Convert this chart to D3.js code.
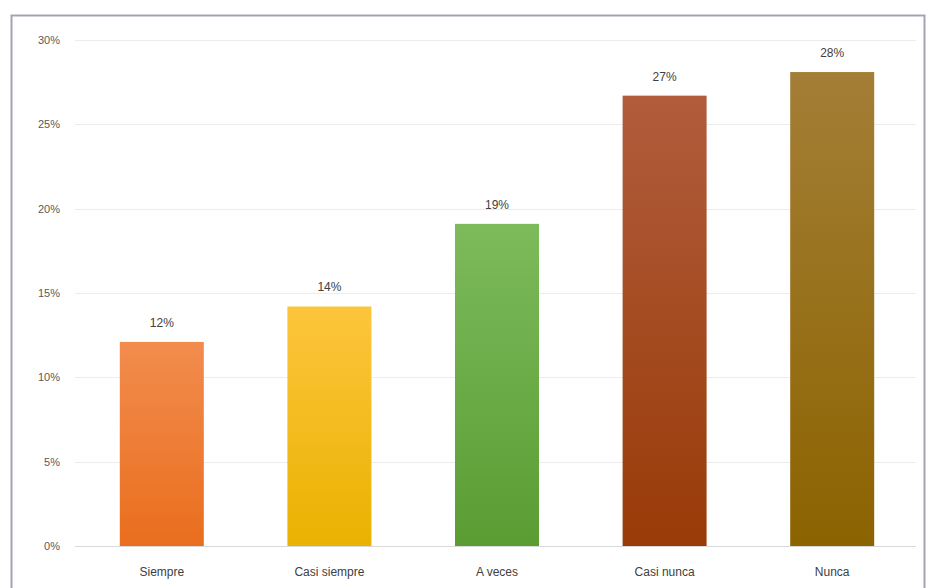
<!DOCTYPE html>
<html><head><meta charset="utf-8">
<script src="https://cdn.jsdelivr.net/npm/d3@7"></script>
<style>html,body{margin:0;padding:0;background:#fff;}svg{display:block;}</style>
</head><body>
<svg id="c" width="929" height="588"></svg>
<script>
const categories = ["Siempre", "Casi siempre", "A veces", "Casi nunca", "Nunca"];
const values = [0.121, 0.142, 0.191, 0.267, 0.281];
const valueLabels = ["12%", "14%", "19%", "27%", "28%"];
const yTicks = [0, 0.05, 0.10, 0.15, 0.20, 0.25, 0.30];
const colorsTop = ["#f28c4e", "#fdc53c", "#7dba5b", "#b15c3c", "#a47e36"];
const colorsBottom = ["#e96e1d", "#eab200", "#5a9d33", "#993b08", "#8c6300"];

const svg = d3.select("#c");
const font = "'Liberation Sans', Arial, sans-serif";

svg.append("rect").attr("x", 11.5).attr("y", 15.5).attr("width", 913).attr("height", 600)
  .attr("fill", "#fff").attr("stroke", "#a3a3b5").attr("stroke-width", 2);

const x = d3.scaleBand().domain(categories).range([78, 916]).paddingInner(0.5).paddingOuter(0.25);
const y = d3.scaleLinear().domain([0, 0.30]).range([546, 40]);

const defs = svg.append("defs");
categories.forEach((c, i) => {
  const g = defs.append("linearGradient").attr("id", "g" + i).attr("x1", 0).attr("y1", 0).attr("x2", 0).attr("y2", 1);
  g.append("stop").attr("offset", "0%").attr("stop-color", colorsTop[i]);
  g.append("stop").attr("offset", "100%").attr("stop-color", colorsBottom[i]);
});

// gridlines
svg.append("g").selectAll("line").data(yTicks).join("line")
  .attr("x1", 75).attr("x2", 916)
  .attr("y1", d => Math.round(y(d)) + 0.5).attr("y2", d => Math.round(y(d)) + 0.5)
  .attr("stroke", d => d === 0 ? "#d9d9d9" : "#ececec").attr("stroke-width", 1);

// y axis labels
const yAxis = d3.axisLeft(y).tickValues(yTicks).tickFormat(d3.format(".0%")).tickSize(0).tickPadding(0);
const ya = svg.append("g").attr("transform", "translate(60,0)").call(yAxis);
ya.select(".domain").remove();
ya.selectAll("text").attr("font-family", font).attr("font-size", 11).attr("fill", "#595959");

// bars
const bw = 84;
svg.append("g").selectAll("rect").data(values).join("rect")
  .attr("x", (d, i) => x(categories[i]) + x.bandwidth() / 2 - bw / 2)
  .attr("width", bw)
  .attr("y", d => y(d))
  .attr("height", d => y(0) - y(d))
  .attr("fill", (d, i) => `url(#g${i})`);

// value labels
svg.append("g").selectAll("text").data(values).join("text")
  .attr("x", (d, i) => x(categories[i]) + x.bandwidth() / 2)
  .attr("y", d => y(d) - 15)
  .attr("text-anchor", "middle")
  .attr("font-family", font).attr("font-size", 12).attr("fill", "#404040")
  .text((d, i) => valueLabels[i]);

// x axis labels
const xAxis = d3.axisBottom(x).tickSize(0).tickPadding(0);
const xa = svg.append("g").attr("transform", "translate(0,567)").call(xAxis);
xa.select(".domain").remove();
xa.selectAll("text").attr("font-family", font).attr("font-size", 12).attr("fill", "#404040");
</script>
</body></html>
